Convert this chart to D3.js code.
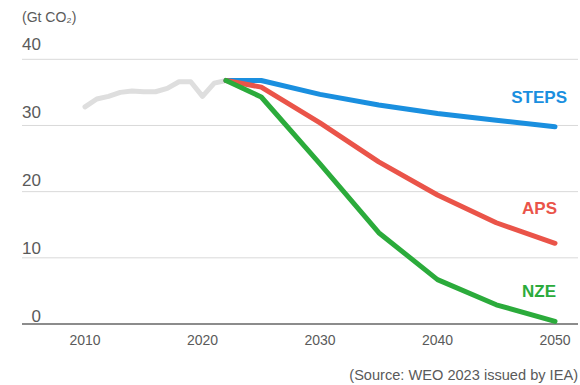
<!DOCTYPE html>
<html>
<head>
<meta charset="utf-8">
<script src="https://cdn.jsdelivr.net/npm/d3@7/dist/d3.min.js"></script>
<style>
  html, body { margin: 0; padding: 0; background: #fff; }
  svg { display: block; font-family: "Liberation Sans", Arial, Helvetica, sans-serif; }
</style>
</head>
<body>
<svg id="chart" width="580" height="385"></svg>
<script>
// ---- data ----
const histYears = [2010, 2011, 2012, 2013, 2014, 2015, 2016, 2017, 2018, 2019, 2020, 2021, 2022];
const histValues = [32.8, 34.0, 34.4, 35.0, 35.2, 35.1, 35.1, 35.6, 36.6, 36.6, 34.4, 36.4, 36.8];
const scenarioYears = [2022, 2025, 2030, 2035, 2040, 2045, 2050];
const stepsValues = [36.8, 36.8, 34.7, 33.1, 31.8, 30.8, 29.8];
const apsValues = [36.8, 35.8, 30.4, 24.5, 19.5, 15.3, 12.2];
const nzeValues = [36.8, 34.3, 24.2, 13.8, 6.7, 2.9, 0.4];
const seriesNames = ["STEPS", "APS", "NZE"];
const xTicks = [2010, 2020, 2030, 2040, 2050];
const yTicks = [0, 10, 20, 30, 40];
const unitLabel = "(Gt CO\u2082)";
const sourceLabel = "(Source: WEO 2023 issued by IEA)";

// ---- drawing ----
const svg = d3.select("#chart");
const x = d3.scaleLinear().domain([2010, 2050]).range([85, 555]);
const y = d3.scaleLinear().domain([0, 40]).range([324, 59.3]);
const yLab = d3.scaleLinear().domain([0, 40]).range([316, 44.5]);

const colors = { STEPS: "#1a8fdf", APS: "#ea5449", NZE: "#2bab3b" };
const labelStyle = {
  STEPS: { dx: 12, y: 102.5 },
  APS: { dx: 2, y: 214 },
  NZE: { dx: 1, y: 297 }
};

// gridlines
svg.append("g").selectAll("line")
  .data(yTicks.filter(d => d > 0))
  .join("line")
  .attr("x1", 22).attr("x2", 578)
  .attr("y1", d => y(d)).attr("y2", d => y(d))
  .attr("stroke", "#d9d9d9").attr("stroke-width", 1);

// zero axis
svg.append("line")
  .attr("x1", 22).attr("x2", 578)
  .attr("y1", y(0)).attr("y2", y(0))
  .attr("stroke", "#8c8c8c").attr("stroke-width", 2);

// y tick labels
svg.append("g").selectAll("text")
  .data(yTicks)
  .join("text")
  .attr("x", 41)
  .attr("y", d => yLab(d))
  .attr("dy", "0.35em")
  .attr("text-anchor", "end")
  .attr("font-size", 17)
  .attr("fill", "#5a5a5a")
  .text(d => d);

// x tick labels
svg.append("g").selectAll("text")
  .data(xTicks)
  .join("text")
  .attr("x", d => x(d))
  .attr("y", 345)
  .attr("text-anchor", "middle")
  .attr("font-size", 14)
  .attr("fill", "#5a5a5a")
  .text(d => d);

// unit label
svg.append("text")
  .attr("x", 22).attr("y", 21.5)
  .attr("font-size", 14)
  .attr("fill", "#5a5a5a")
  .text(unitLabel);

// source
svg.append("text")
  .attr("x", 578).attr("y", 380)
  .attr("text-anchor", "end")
  .attr("font-size", 14.6)
  .attr("fill", "#5a5a5a")
  .text(sourceLabel);

const line = d3.line().x(d => x(d[0])).y(d => y(d[1]));

// history
svg.append("path")
  .datum(histYears.map((yr, i) => [yr, histValues[i]]))
  .attr("d", line)
  .attr("fill", "none")
  .attr("stroke", "#dedede")
  .attr("stroke-width", 5)
  .attr("stroke-linecap", "round")
  .attr("stroke-linejoin", "round");

const scenarioValues = { STEPS: stepsValues, APS: apsValues, NZE: nzeValues };
seriesNames.forEach(name => {
  const vals = scenarioValues[name];
  svg.append("path")
    .datum(scenarioYears.map((yr, i) => [yr, vals[i]]))
    .attr("d", line)
    .attr("fill", "none")
    .attr("stroke", colors[name])
    .attr("stroke-width", 5)
    .attr("stroke-linecap", "round")
    .attr("stroke-linejoin", "round");
});

seriesNames.forEach(name => {
  svg.append("text")
    .attr("x", x(2050) + labelStyle[name].dx)
    .attr("y", labelStyle[name].y)
    .attr("text-anchor", "end")
    .attr("font-size", 17)
    .attr("font-weight", "bold")
    .attr("fill", colors[name])
    .text(name);
});
</script>
</body>
</html>
